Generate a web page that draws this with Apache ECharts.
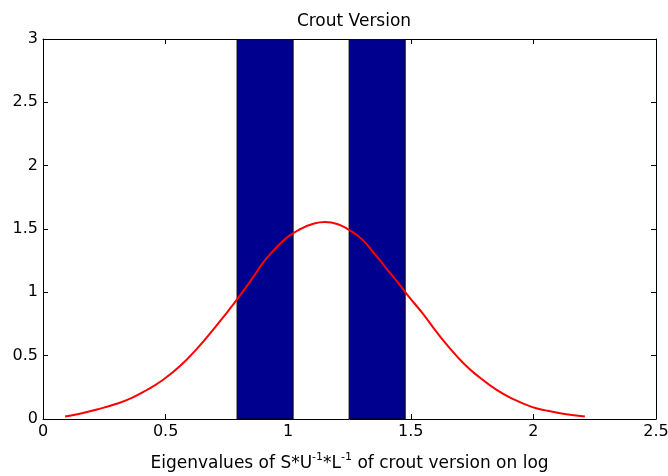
<!DOCTYPE html>
<html>
<head>
<meta charset="utf-8">
<script src="https://cdn.jsdelivr.net/npm/echarts@6/dist/echarts.min.js"></script>
<style>html,body{margin:0;padding:0;background:#fff;}#c{width:668px;height:476px;}</style>
</head>
<body>
<div id="c"></div>
<script>
// Histogram bars: [left edge, right edge, height] (tops extend beyond the visible y range)
var barLeft = [0.7915, 1.2485];
var barRight = [1.020, 1.477];
var barHeight = [3, 3];
// Fitted density curve
var curveX = [0.09,0.15,0.22,0.30,0.36,0.42,0.49,0.56,0.63,0.70,0.75,0.79,0.85,0.90,0.95,1.00,1.05,1.10,1.15,1.20,1.25,1.30,1.35,1.40,1.45,1.49,1.55,1.60,1.65,1.72,1.78,1.85,1.92,1.99,2.05,2.12,2.21];
var curveY = [0.02,0.042,0.075,0.12,0.165,0.225,0.31,0.42,0.56,0.72,0.84,0.94,1.10,1.24,1.35,1.44,1.50,1.54,1.555,1.54,1.49,1.42,1.31,1.19,1.07,0.97,0.83,0.70,0.58,0.43,0.33,0.23,0.155,0.098,0.068,0.042,0.02];
var xTicks = [0, 0.5, 1, 1.5, 2, 2.5];
var yTicks = [0, 0.5, 1, 1.5, 2, 2.5, 3];

var FONT = 'DejaVu Sans, sans-serif';
var barData = barLeft.map(function(l, i){ return [l, barRight[i], barHeight[i]]; });
var lineData = curveX.map(function(x, i){ return [x, curveY[i]]; });

var chart = echarts.init(document.getElementById('c'));
var axisCommonX = {
  type: 'value', min: xTicks[0], max: xTicks[xTicks.length-1], interval: 0.5,
  splitLine: {show: false},
  axisLine: {show: true, onZero: false, lineStyle: {color: '#000', width: 1}},
  axisTick: {show: true, inside: true, length: 5, lineStyle: {color: '#000'}}
};
var axisCommonY = {
  type: 'value', min: yTicks[0], max: yTicks[yTicks.length-1], interval: 0.5,
  splitLine: {show: false},
  axisLine: {show: true, onZero: false, lineStyle: {color: '#000', width: 1}},
  axisTick: {show: true, inside: true, length: 5, lineStyle: {color: '#000'}}
};
chart.setOption({
  animation: false,
  backgroundColor: '#fff',
  title: {
    text: 'Crout Version', left: 349, top: 8, textAlign: 'center',
    textStyle: {fontFamily: FONT, fontSize: 17, fontWeight: 'normal', color: '#000'}
  },
  grid: {left: 43, right: 12, top: 39, bottom: 57, containLabel: false, outerBoundsMode: 'none'},
  xAxis: [
    Object.assign({}, axisCommonX, {
      position: 'bottom',
      axisLabel: {fontFamily: FONT, fontSize: 16, color: '#000', margin: 5,
        formatter: function(v){ return String(v); }},
      name: '{n|Eigenvalues of S*U}{s|-1}{n|*L}{s|-1}{n| of crout version on log}',
      nameLocation: 'middle', nameGap: 33,
      nameTextStyle: {
        rich: {
          n: {fontFamily: FONT, fontSize: 17, color: '#000', verticalAlign: 'bottom', lineHeight: 20},
          s: {fontFamily: FONT, fontSize: 11, color: '#000', verticalAlign: 'top', lineHeight: 20, padding: [0,0,9,0]}
        }
      }
    }),
    Object.assign({}, axisCommonX, {position: 'top', axisLabel: {show: false}})
  ],
  yAxis: [
    Object.assign({}, axisCommonY, {
      position: 'left',
      axisLabel: {fontFamily: FONT, fontSize: 16, color: '#000', margin: 5,
        formatter: function(v){ return String(v); }}
    }),
    Object.assign({}, axisCommonY, {position: 'right', axisLabel: {show: false}})
  ],
  series: [
    {
      type: 'custom',
      xAxisIndex: 0, yAxisIndex: 0,
      clip: true,
      renderItem: function(params, api){
        var p0 = api.coord([api.value(0), api.value(2)]);
        var p1 = api.coord([api.value(1), 0]);
        var rect = {x: p0[0], y: p0[1], width: p1[0]-p0[0], height: p1[1]-p0[1]};
        var clipped = echarts.graphic.clipRectByRect(rect, {
          x: params.coordSys.x, y: params.coordSys.y,
          width: params.coordSys.width, height: params.coordSys.height
        });
        return clipped && {
          type: 'rect', shape: clipped,
          style: {fill: 'rgb(0,0,143)', stroke: '#000', lineWidth: 1}
        };
      },
      encode: {x: [0, 1], y: 2},
      data: barData,
      z: 1
    },
    {
      type: 'line',
      xAxisIndex: 0, yAxisIndex: 0,
      data: lineData,
      smooth: 0.5,
      showSymbol: false,
      lineStyle: {color: '#ff0000', width: 2},
      z: 3
    }
  ]
});
</script>
</body>
</html>
